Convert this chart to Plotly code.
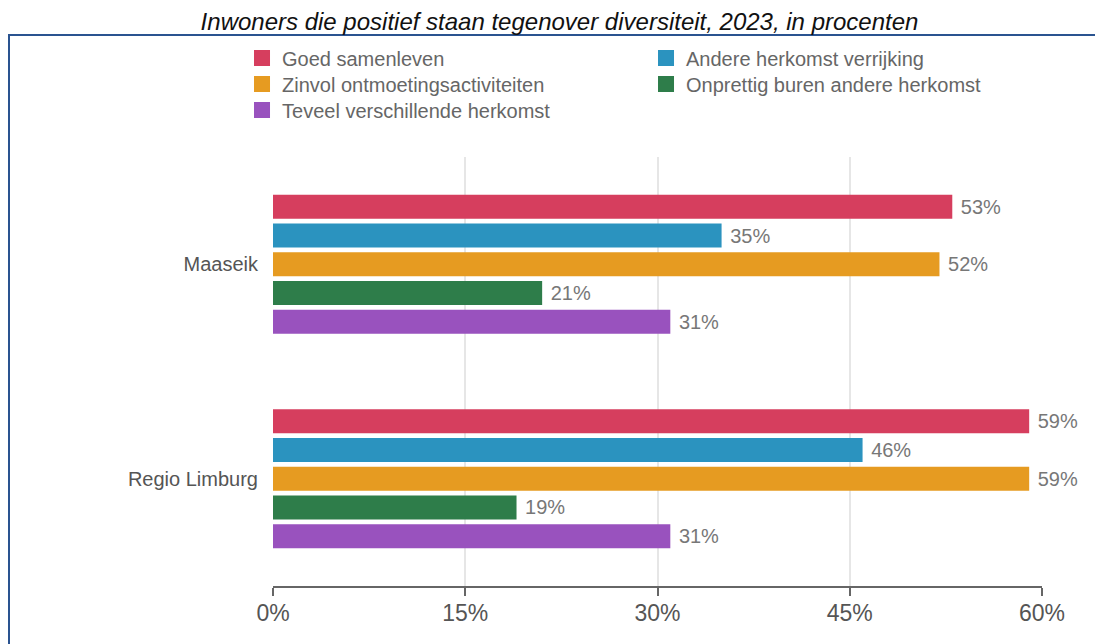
import plotly.graph_objects as go

# data
regions = ["Maaseik", "Regio Limburg"]
series = ["Goed samenleven", "Andere herkomst verrijking", "Zinvol ontmoetingsactiviteiten",
          "Onprettig buren andere herkomst", "Teveel verschillende herkomst"]
goed = [53, 59]
andere = [35, 46]
zinvol = [52, 59]
onprettig = [21, 19]
teveel = [31, 31]
values = [goed, andere, zinvol, onprettig, teveel]
colors = ["#d63e5e", "#2b93bf", "#e69b21", "#2e7d4a", "#9952be"]
legend_rows = ["legend", "legend", "legend2", "legend2", "legend3"]
x_ticks = [0, 15, 30, 45, 60]
title = "Inwoners die positief staan tegenover diversiteit, 2023, in procenten"

fig = go.Figure()
for name, vals, col in zip(series, values, colors):
    fig.add_trace(go.Bar(
        y=regions, x=vals, name=name, orientation="h", showlegend=False,
        marker=dict(color=col, line=dict(width=0)),
        text=vals, texttemplate="&nbsp;%{x}%", textposition="outside",
        textfont=dict(color="#777777", size=20), cliponaxis=False,
    ))

# legend entries with big square swatches
for name, col, lg in zip(series, colors, legend_rows):
    fig.add_trace(go.Scatter(
        x=[None], y=[None], name=name, mode="markers", legend=lg,
        marker=dict(symbol="square", size=20, color=col),
    ))

leg = dict(orientation="h", x=-0.0403, xanchor="left", yanchor="middle",
           entrywidth=359, entrywidthmode="pixels", itemsizing="trace",
           font=dict(size=20, color="#666666"), itemclick=False,
           bgcolor="rgba(0,0,0,0)")

fig.update_layout(
    width=1103, height=644,
    margin=dict(l=265, r=69, t=149, b=66),
    font=dict(family="Liberation Sans, Arial, sans-serif", size=20, color="#555555"),
    plot_bgcolor="white", paper_bgcolor="white",
    barmode="group", bargap=0.33, bargroupgap=0.165,
    title=dict(text="<i>" + title + "</i>", x=0.5, xref="container", xanchor="center",
               y=1 - 14 / 644, yref="container", yanchor="middle",
               font=dict(size=24, color="#111111")),
    legend=dict(leg, y=(578 - 50) / 429),
    legend2=dict(leg, y=(578 - 76) / 429),
    legend3=dict(leg, y=(578 - 102) / 429),
)
fig.update_xaxes(range=[0, 60], tickvals=x_ticks, ticktext=[f"{t}%" for t in x_ticks],
                 showgrid=True, gridcolor="#e6e6e6", gridwidth=2,
                 showline=True, linecolor="#666666", linewidth=2,
                 ticks="outside", ticklen=8, tickwidth=2, tickcolor="#666666",
                 ticklabelstandoff=-3,
                 tickfont=dict(size=23, color="#555555"), zeroline=False)
fig.update_yaxes(autorange="reversed", showgrid=False, showline=False, ticks="",
                 ticklabelstandoff=14, tickfont=dict(size=20, color="#555555"))

# frame around the chart
fig.add_shape(type="rect", xref="paper", yref="paper",
              x0=(1 - 265) / 769, x1=1.2, y0=-0.3, y1=(578 - 27) / 429,
              line=dict(color="#2a5390", width=2), layer="below")

fig.write_html("out.html")
